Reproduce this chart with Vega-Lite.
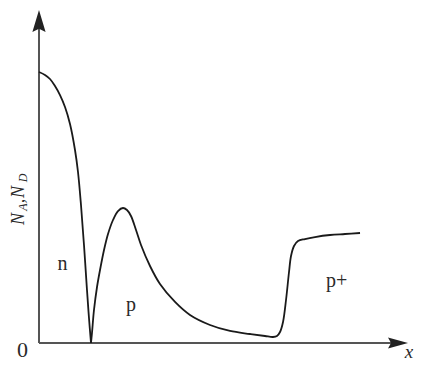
{
  "$schema": "https://vega.github.io/schema/vega-lite/v6.json",
  "width": 421,
  "height": 366,
  "autosize": "none",
  "padding": 0,
  "background": "white",
  "config": {"view": {"stroke": null}},
  "encoding": {
    "x": {"field": "x", "type": "quantitative", "scale": {"domain": [-10.54, 103.24], "nice": false, "zero": false}, "axis": null},
    "y": {"field": "y", "type": "quantitative", "scale": {"domain": [-6.95, 103.63], "nice": false, "zero": false}, "axis": null}
  },
  "layer": [
    {
      "data": {"values": [
        {"x": 0, "y": 0, "x2": 96, "y2": 0},
        {"x": 0, "y": 0, "x2": 0, "y2": 96}
      ]},
      "mark": {"type": "rule", "color": "#555555", "strokeWidth": 2},
      "encoding": {"x2": {"field": "x2"}, "y2": {"field": "y2"}}
    },
    {
      "data": {"values": [
        {"x": 0, "y": 100.6, "dir": "up"}
      ]},
      "mark": {"type": "point", "filled": true, "color": "#222222", "opacity": 1, "shape": "M0,0 L0.6,2 L0,1.7 L-0.6,2 Z", "size": 484, "strokeWidth": 0}
    },
    {
      "data": {"values": [
        {"x": 99.73, "y": 0, "dir": "right"}
      ]},
      "mark": {"type": "point", "filled": true, "color": "#222222", "opacity": 1, "shape": "M0,0 L-2,-0.55 L-1.7,0 L-2,0.55 Z", "size": 400, "strokeWidth": 0}
    },
    {
      "data": {"values": [
        {"seg": "a", "x": 0, "y": 81.87},
        {"seg": "a", "x": 1.62, "y": 80.97},
        {"seg": "a", "x": 2.97, "y": 79.76},
        {"seg": "a", "x": 4.32, "y": 77.64},
        {"seg": "a", "x": 5.68, "y": 74.92},
        {"seg": "a", "x": 7.03, "y": 71.3},
        {"seg": "a", "x": 8.38, "y": 66.16},
        {"seg": "a", "x": 9.73, "y": 58.31},
        {"seg": "a", "x": 10.54, "y": 51.66},
        {"seg": "a", "x": 11.35, "y": 41.69},
        {"seg": "a", "x": 12.16, "y": 29.61},
        {"seg": "a", "x": 12.97, "y": 16.01},
        {"seg": "a", "x": 13.51, "y": 7.55},
        {"seg": "a", "x": 14.05, "y": 0},
        {"seg": "b", "x": 14.05, "y": 0},
        {"seg": "b", "x": 14.32, "y": 3.02},
        {"seg": "b", "x": 14.86, "y": 9.97},
        {"seg": "b", "x": 15.68, "y": 16.92},
        {"seg": "b", "x": 16.49, "y": 22.05},
        {"seg": "b", "x": 17.57, "y": 28.1},
        {"seg": "b", "x": 18.65, "y": 32.93},
        {"seg": "b", "x": 20.0, "y": 37.16},
        {"seg": "b", "x": 21.35, "y": 39.88},
        {"seg": "b", "x": 22.7, "y": 40.79},
        {"seg": "b", "x": 23.78, "y": 40.18},
        {"seg": "b", "x": 24.86, "y": 38.37},
        {"seg": "b", "x": 26.22, "y": 34.14},
        {"seg": "b", "x": 27.57, "y": 29.61},
        {"seg": "b", "x": 30.0, "y": 23.26},
        {"seg": "b", "x": 32.7, "y": 17.82},
        {"seg": "b", "x": 36.76, "y": 12.39},
        {"seg": "b", "x": 40.81, "y": 8.46},
        {"seg": "b", "x": 46.22, "y": 5.44},
        {"seg": "b", "x": 51.62, "y": 3.63},
        {"seg": "b", "x": 57.03, "y": 2.72},
        {"seg": "b", "x": 61.08, "y": 2.11},
        {"seg": "b", "x": 63.24, "y": 1.81},
        {"seg": "b", "x": 64.32, "y": 2.11},
        {"seg": "b", "x": 65.14, "y": 3.32},
        {"seg": "b", "x": 65.95, "y": 6.34},
        {"seg": "b", "x": 66.76, "y": 12.99},
        {"seg": "b", "x": 67.57, "y": 21.45},
        {"seg": "b", "x": 68.11, "y": 26.28},
        {"seg": "b", "x": 68.92, "y": 29.31},
        {"seg": "b", "x": 70.0, "y": 30.82},
        {"seg": "b", "x": 71.89, "y": 31.42},
        {"seg": "b", "x": 74.59, "y": 32.02},
        {"seg": "b", "x": 78.65, "y": 32.63},
        {"seg": "b", "x": 82.7, "y": 32.93},
        {"seg": "b", "x": 86.76, "y": 33.23}
      ]},
      "mark": {"type": "line", "color": "#1a1a1a", "strokeWidth": 1.8, "interpolate": "catmull-rom"},
      "encoding": {"detail": {"field": "seg"}}
    },
    {
      "data": {"values": [
        {"label": "n", "x": 6.35, "y": 22.05},
        {"label": "p", "x": 24.86, "y": 9.67},
        {"label": "p+", "x": 80.41, "y": 16.92}
      ]},
      "mark": {"type": "text", "font": "Liberation Serif", "fontSize": 20, "color": "#2a2a2a", "align": "center", "baseline": "alphabetic"},
      "encoding": {"text": {"field": "label"}}
    },
    {
      "data": {"values": [
        {"label": "0", "x": -4.46, "y": -4.23}
      ]},
      "mark": {"type": "text", "font": "Liberation Serif", "fontSize": 22, "color": "#2a2a2a", "align": "center", "baseline": "alphabetic"},
      "encoding": {"text": {"field": "label"}}
    },
    {
      "data": {"values": [
        {"label": "x", "x": 100, "y": -4.53}
      ]},
      "mark": {"type": "text", "font": "Liberation Serif", "fontStyle": "italic", "fontSize": 19, "color": "#2a2a2a", "align": "center", "baseline": "alphabetic"},
      "encoding": {"text": {"field": "label"}}
    },
    {
      "data": {"values": [
        {"label": "N", "x": -4.05, "y": 37.46},
        {"label": ",", "x": -4.05, "y": 42.9},
        {"label": "N", "x": -4.05, "y": 45.62}
      ]},
      "mark": {"type": "text", "font": "Liberation Serif", "fontStyle": "italic", "fontSize": 18, "color": "#2a2a2a", "align": "center", "baseline": "alphabetic", "angle": 270},
      "encoding": {"text": {"field": "label"}}
    },
    {
      "data": {"values": [
        {"label": "A", "x": -3.24, "y": 41.09},
        {"label": "D", "x": -3.24, "y": 49.85}
      ]},
      "mark": {"type": "text", "font": "Liberation Serif", "fontStyle": "italic", "fontSize": 12, "color": "#2a2a2a", "align": "center", "baseline": "alphabetic", "angle": 270},
      "encoding": {"text": {"field": "label"}}
    }
  ]
}
